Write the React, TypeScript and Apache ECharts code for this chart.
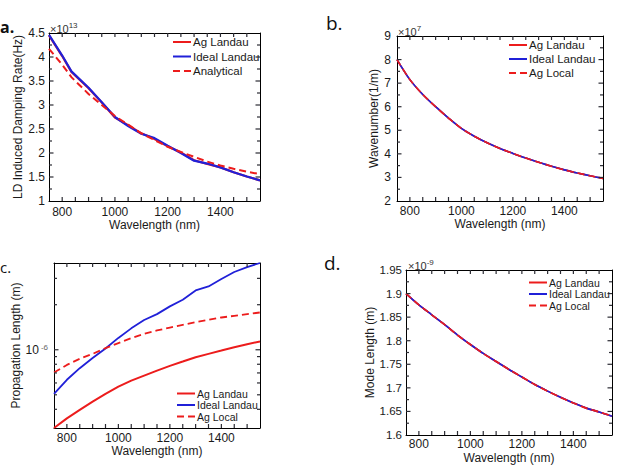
import React, { useEffect, useRef } from 'react';
import * as echarts from 'echarts';

// Wavelength samples (nm)
const wavelengthA = [750, 800, 835, 900, 950, 1000, 1050, 1100, 1150, 1200, 1250, 1300, 1350, 1400, 1450, 1500, 1550];
const wavelength = [750, 800, 850, 900, 950, 1000, 1050, 1100, 1150, 1200, 1250, 1300, 1350, 1400, 1450, 1500, 1550];

// (a) LD induced damping rate, in units of 1e13 Hz
const dampAgLandau = [4.45, 4.02, 3.69, 3.35, 3.05, 2.74, 2.58, 2.41, 2.29, 2.14, 2.01, 1.85, 1.77, 1.70, 1.60, 1.51, 1.43];
const dampIdealLandau = [4.46, 4.03, 3.70, 3.36, 3.06, 2.75, 2.56, 2.40, 2.31, 2.15, 2.00, 1.84, 1.78, 1.70, 1.60, 1.51, 1.43];
const dampAnalytical = [4.17, 3.84, 3.58, 3.23, 3.00, 2.77, 2.59, 2.41, 2.27, 2.13, 2.02, 1.92, 1.82, 1.74, 1.67, 1.61, 1.56];

// (b) wavenumber, in units of 1e7 1/m
const kAgLandau = [8.0, 7.15, 6.52, 6.0, 5.52, 5.08, 4.75, 4.47, 4.23, 4.02, 3.82, 3.64, 3.47, 3.32, 3.19, 3.07, 2.96];
const kIdealLandau = [8.0, 7.15, 6.52, 6.0, 5.52, 5.08, 4.75, 4.47, 4.23, 4.02, 3.82, 3.64, 3.47, 3.32, 3.19, 3.07, 2.96];
const kAgLocal = [8.0, 7.15, 6.52, 6.0, 5.52, 5.08, 4.75, 4.47, 4.23, 4.02, 3.82, 3.64, 3.47, 3.32, 3.19, 3.07, 2.96];

// (c) propagation length, m
const propAgLandau = [3.0e-7, 3.48e-7, 3.96e-7, 4.5e-7, 5.07e-7, 5.67e-7, 6.22e-7, 6.72e-7, 7.26e-7, 7.8e-7, 8.34e-7, 8.92e-7, 9.39e-7, 9.88e-7, 1.04e-6, 1.09e-6, 1.135e-6];
const propIdealLandau = [5.07e-7, 6.3e-7, 7.53e-7, 8.8e-7, 1.02e-6, 1.2e-6, 1.39e-6, 1.58e-6, 1.73e-6, 1.95e-6, 2.16e-6, 2.49e-6, 2.65e-6, 2.97e-6, 3.31e-6, 3.57e-6, 3.8e-6];
const propAgLocal = [7.04e-7, 7.92e-7, 8.7e-7, 9.39e-7, 1.025e-6, 1.107e-6, 1.196e-6, 1.278e-6, 1.345e-6, 1.408e-6, 1.468e-6, 1.53e-6, 1.585e-6, 1.643e-6, 1.686e-6, 1.73e-6, 1.775e-6];

// (d) mode length, in units of 1e-9 m
const modeAgLandau = [1.900, 1.876, 1.855, 1.834, 1.812, 1.792, 1.773, 1.756, 1.739, 1.723, 1.707, 1.693, 1.680, 1.668, 1.657, 1.649, 1.640];
const modeIdealLandau = [1.900, 1.876, 1.855, 1.834, 1.812, 1.792, 1.773, 1.756, 1.739, 1.723, 1.707, 1.693, 1.680, 1.668, 1.657, 1.649, 1.640];
const modeAgLocal = [1.900, 1.876, 1.855, 1.834, 1.812, 1.792, 1.773, 1.756, 1.739, 1.723, 1.707, 1.693, 1.680, 1.668, 1.657, 1.649, 1.640];

// Tick values
const wavelengthLabels = [800, 1000, 1200, 1400];
const wavelengthTicks = [800, 850, 900, 950, 1000, 1050, 1100, 1150, 1200, 1250, 1300, 1350, 1400, 1450, 1500];
const dampTicks = [1.5, 2, 2.5, 3, 3.5, 4];
const dampMinorTicks = [1.25, 1.75, 2.25, 2.75, 3.25, 3.75, 4.25];
const kTicks = [3, 4, 5, 6, 7, 8];
const kMinorTicks = [2.5, 3.5, 4.5, 5.5, 6.5, 7.5, 8.5];
const propLabels = [1e-6];
const propTicks = [1e-6];
const propMinorTicks = [4e-7, 5e-7, 6e-7, 7e-7, 8e-7, 9e-7, 2e-6, 3e-6];
const modeTicks = [1.65, 1.7, 1.75, 1.8, 1.85, 1.9];
const modeMinorTicks = [1.625, 1.675, 1.725, 1.775, 1.825, 1.875, 1.925];

const RED = '#ec1c1c';
const BLUE = '#2020d8';
const FONT = '"Liberation Sans", Arial, sans-serif';
const TEXT = '#1a1a1a';
const TICK_COLOR = '#2b2b33';

const axisLine = { show: true, onZero: false, lineStyle: { color: '#000', width: 1 } };

function xAxes(grid: number, margin: number, nameGap: number) {
  const base: any = {
    type: 'value',
    gridIndex: grid,
    min: 750,
    max: 1550,
    axisLine,
    splitLine: { show: false },
    axisTick: { show: false },
  };
  return [
    {
      ...base,
      position: 'bottom',
      name: 'Wavelength (nm)',
      nameLocation: 'middle',
      nameGap,
      nameTextStyle: { fontFamily: FONT, fontSize: 12, color: TEXT },
      axisLabel: {
        customValues: wavelengthLabels,
        margin,
        formatter: (v: number) => String(v),
        fontFamily: FONT,
        fontSize: 12,
        color: TEXT,
      },
    },
    { ...base, position: 'top', axisLabel: { show: false } },
  ];
}

function yAxes(grid: number, min: number, max: number, interval: number, name: string, nameGap: number, margin: number, fontSize = 12) {
  const base: any = {
    type: 'value',
    gridIndex: grid,
    min,
    max,
    interval,
    axisLine,
    splitLine: { show: false },
    axisTick: { show: false },
  };
  return [
    {
      ...base,
      position: 'left',
      name,
      nameLocation: 'middle',
      nameGap,
      nameTextStyle: { fontFamily: FONT, fontSize: 12, color: TEXT },
      axisLabel: { margin, fontFamily: FONT, fontSize, color: TEXT },
    },
    { ...base, position: 'right', axisLabel: { show: false } },
  ];
}

function logYAxes(grid: number, min: number, max: number, name: string, nameGap: number, margin: number) {
  const base: any = {
    type: 'log',
    logBase: 10,
    gridIndex: grid,
    min,
    max,
    axisLine,
    splitLine: { show: false },
    axisTick: { show: false },
  };
  return [
    {
      ...base,
      position: 'left',
      name,
      nameLocation: 'middle',
      nameGap,
      nameTextStyle: { fontFamily: FONT, fontSize: 12, color: TEXT },
      axisLabel: {
        customValues: propLabels,
        margin,
        formatter: (v: number) => `{b|10}{s|${Math.round(Math.log10(v))}}`,
        rich: {
          b: { fontFamily: FONT, fontSize: 12, color: TEXT, verticalAlign: 'bottom' },
          s: { fontFamily: FONT, fontSize: 8, color: '#666', verticalAlign: 'top', padding: [0, 0, 0, 2] },
        },
      },
    },
    { ...base, position: 'right', axisLabel: { show: false } },
  ];
}

function line(panel: string, name: string, grid: number, xs: number[], ys: number[], color: string, width: number, dashed: boolean, smooth: number | boolean = false) {
  return {
    type: 'line',
    name: `${panel}:${name}`,
    xAxisIndex: grid * 2,
    yAxisIndex: grid * 2,
    data: xs.map((x, i) => [x, ys[i]]),
    symbol: 'none',
    smooth,
    silent: true,
    lineStyle: { color, width, type: dashed ? [7, 4] : 'solid' },
    // the legend marker only shows the line sample
    itemStyle: { color, opacity: 0 },
  };
}

function legend(panel: string, names: string[], left: number, top: number, itemGap: number, fontSize: number) {
  return {
    orient: 'vertical',
    left,
    top,
    padding: 0,
    itemWidth: 18,
    itemHeight: 8,
    itemGap,
    selectedMode: false,
    data: names.map((n) => `${panel}:${n}`),
    formatter: (n: string) => n.slice(n.indexOf(':') + 1),
    textStyle: { fontFamily: FONT, fontSize, lineHeight: 11, color: TEXT, padding: [0, 0, 0, -3] },
  };
}

function multiplier(x: number, y: number, exp: string) {
  return {
    type: 'text',
    x,
    y,
    silent: true,
    style: {
      text: `{b|×10}{s|${exp}}`,
      verticalAlign: 'top',
      rich: {
        b: { fontFamily: FONT, fontSize: 11, fill: '#333', verticalAlign: 'bottom', lineHeight: 13 },
        s: { fontFamily: FONT, fontSize: 8, fill: '#333', verticalAlign: 'top' },
      },
    },
  };
}

function panelLetter(x: number, y: number, text: string, size: number, bold: boolean) {
  return {
    type: 'text',
    x,
    y,
    silent: true,
    style: {
      text,
      font: `${bold ? 'bold ' : ''}${size}px "Open Sans", sans-serif`,
      fill: '#111',
      verticalAlign: 'top',
    },
  };
}

export default function App() {
  const ref = useRef<HTMLDivElement>(null);

  useEffect(() => {
    if (!ref.current) return;
    const chart = echarts.init(ref.current, undefined, { renderer: 'svg' });

    const propMin = Math.min(...propAgLandau);
    const propMax = Math.max(...propIdealLandau);

    chart.setOption({
      animation: false,
      backgroundColor: '#fff',
      grid: [
        { left: 49, top: 33, width: 211, height: 168 },
        { left: 397, top: 36, width: 206, height: 165 },
        { left: 54, top: 263, width: 206, height: 165 },
        { left: 406, top: 270, width: 206, height: 166 },
      ],
      xAxis: [...xAxes(0, 5, 16), ...xAxes(1, 4, 15), ...xAxes(2, 4, 17), ...xAxes(3, 3, 17)],
      yAxis: [
        ...yAxes(0, 1, 4.5, 0.5, 'LD Induced Damping Rate(Hz)', 20, 4),
        ...yAxes(1, 2, 9, 1, 'Wavenumber(1/m)', 11, 6),
        ...logYAxes(2, propMin, propMax, 'Propagation Length (m)', 22, 6),
        ...yAxes(3, 1.6, 1.95, 0.05, 'Mode Length (m)', 27, 4, 11.5),
      ],
      legend: [
        legend('a', ['Ag Landau', 'Ideal Landau', 'Analytical'], 172, 36, 2.5, 11.5),
        legend('b', ['Ag Landau', 'Ideal Landau', 'Ag Local'], 508, 39, 2, 11.5),
        legend('c', ['Ag Landau', 'Ideal Landau', 'Ag Local'], 176, 388, 0.5, 10.5),
        legend('d', ['Ag Landau', 'Ideal Landau', 'Ag Local'], 528, 277, 0.5, 10.5),
      ],
      series: [
        line('a', 'Ag Landau', 0, wavelengthA, dampAgLandau, RED, 2.2, false),
        line('a', 'Ideal Landau', 0, wavelengthA, dampIdealLandau, BLUE, 2.2, false),
        line('a', 'Analytical', 0, wavelengthA, dampAnalytical, RED, 2, true),
        line('b', 'Ag Landau', 1, wavelength, kAgLandau, RED, 1.6, false, 0.3),
        line('b', 'Ideal Landau', 1, wavelength, kIdealLandau, BLUE, 1.6, false, 0.3),
        line('b', 'Ag Local', 1, wavelength, kAgLocal, RED, 1.6, true, 0.3),
        line('c', 'Ag Landau', 2, wavelength, propAgLandau, RED, 2, false),
        line('c', 'Ideal Landau', 2, wavelength, propIdealLandau, BLUE, 1.8, false),
        line('c', 'Ag Local', 2, wavelength, propAgLocal, RED, 1.8, true),
        line('d', 'Ag Landau', 3, wavelength, modeAgLandau, RED, 1.6, false, 0.3),
        line('d', 'Ideal Landau', 3, wavelength, modeIdealLandau, BLUE, 1.6, false, 0.3),
        line('d', 'Ag Local', 3, wavelength, modeAgLocal, RED, 1.6, true, 0.3),
      ],
    });

    // Inward tick marks on all four sides of every box, placed through the axes' own scales.
    const ticks: any[] = [];
    const seg = (x1: number, y1: number, x2: number, y2: number) =>
      ticks.push({
        type: 'rect',
        silent: true,
        z: 100,
        shape: {
          x: Math.min(x1, x2) - (x1 === x2 ? 0.6 : 0),
          y: Math.min(y1, y2) - (y1 === y2 ? 0.6 : 0),
          width: x1 === x2 ? 1.2 : Math.abs(x2 - x1),
          height: y1 === y2 ? 1.2 : Math.abs(y2 - y1),
        },
        style: { fill: TICK_COLOR },
      });
    const px = (g: number, v: number) => Number(chart.convertToPixel({ xAxisIndex: g * 2 }, v));
    const py = (g: number, v: number) => Number(chart.convertToPixel({ yAxisIndex: g * 2 }, v));
    const xTicks = (g: number, yMin: number, yMax: number, values: number[], len: number) => {
      const bottom = py(g, yMin);
      const top = py(g, yMax);
      values.forEach((v) => {
        const x = px(g, v);
        seg(x, bottom, x, bottom - len);
        seg(x, top, x, top + len);
      });
    };
    const yTicks = (g: number, values: number[], len: number) => {
      const left = px(g, 750);
      const right = px(g, 1550);
      values.forEach((v) => {
        const y = py(g, v);
        seg(left, y, left + len, y);
        seg(right, y, right - len, y);
      });
    };

    xTicks(0, 1, 4.5, wavelengthTicks, 4);
    xTicks(1, 2, 9, wavelengthTicks, 4);
    xTicks(2, propMin, propMax, wavelengthTicks, 4);
    xTicks(3, 1.6, 1.95, wavelengthTicks, 4);
    yTicks(0, dampTicks, 4.5);
    yTicks(0, dampMinorTicks, 3);
    yTicks(1, kTicks, 4.5);
    yTicks(1, kMinorTicks, 3);
    yTicks(2, propTicks, 4.5);
    yTicks(2, propMinorTicks, 3);
    yTicks(3, modeTicks, 4.5);
    yTicks(3, modeMinorTicks, 3);

    chart.setOption({
      graphic: [
        panelLetter(0, 19, 'a.', 16, true),
        panelLetter(326, 13, 'b.', 19, false),
        panelLetter(0, 259, 'c.', 15, false),
        panelLetter(324, 253, 'd.', 19, false),
        multiplier(50, 21, '13'),
        multiplier(398, 24, '7'),
        multiplier(408, 258, '-9'),
        ...ticks,
      ],
    });

    return () => chart.dispose();
  }, []);

  return (
    <div
      ref={ref}
      style={{ position: 'fixed', left: 0, top: 0, width: 631, height: 465, background: '#fff' }}
    />
  );
}
